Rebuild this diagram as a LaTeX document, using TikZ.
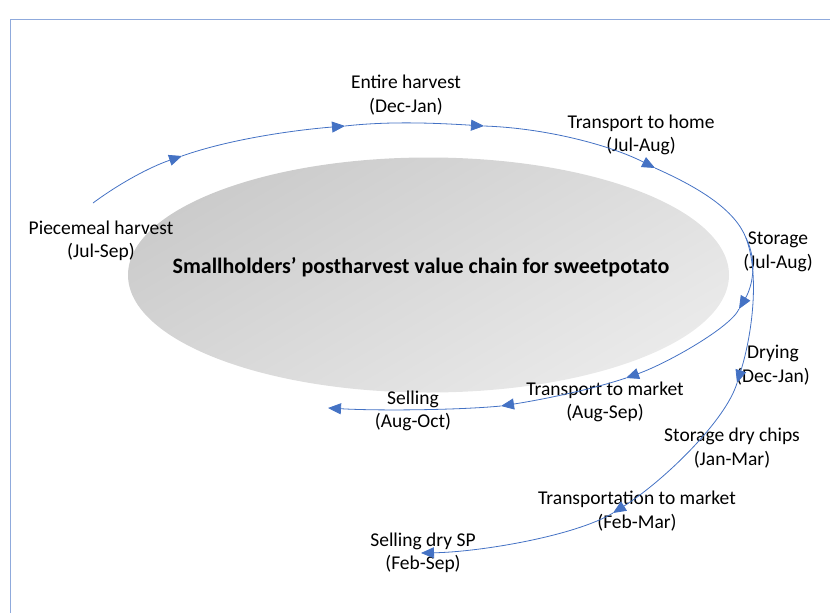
\documentclass[tikz,border=0pt]{standalone}
\usepackage{fontspec}
\setmainfont{Carlito}
\usetikzlibrary{arrows.meta,shapes.geometric}
\definecolor{flowblue}{HTML}{4472C4}
\definecolor{frameblue}{HTML}{8FAADC}
\definecolor{chaindark}{HTML}{CBCBCB}
\definecolor{chainlight}{HTML}{EAEAEA}
\tikzset{
  stage/.style={align=center, font=\fontsize{19.5}{23.5}\selectfont},
  flow/.style={draw=flowblue, line width=0.8pt, -{Triangle[length=13pt,width=11pt]}},
}
\begin{document}
\begin{tikzpicture}[x=1pt, y=-1pt]
        \useasboundingbox (0,0) rectangle (830,613);
        \draw[frameblue, line width=1.5pt] (10.5,640) -- (10.5,19.5) -- (850,19.5);

        % Nodes
        \node (chain) [ellipse, minimum width=601pt, minimum height=235pt,
          top color=chaindark, bottom color=chainlight, shading angle=30] at (428.5,275) {};
        \node (title) [font=\fontsize{22}{26}\selectfont\bfseries] at (421,267)
          {Smallholders’ postharvest value chain for sweetpotato};

        \node (piecemeal) [stage] at (101,241) {Piecemeal harvest\\(Jul-Sep)};
        \node (entire) [stage] at (406,95) {Entire harvest\\(Dec-Jan)};
        \node (home) [stage] at (641,135) {Transport to home\\(Jul-Aug)};
        \node (storage) [stage] at (778,252) {Storage\\(Jul-Aug)};
        \node (drying) [stage] at (773,365) {Drying\\(Dec-Jan)};
        \node (tmarket) [stage] at (605,402) {Transport to market\\(Aug-Sep)};
        \node (selling) [stage] at (413,411) {Selling\\(Aug-Oct)};
        \node (drychips) [stage] at (732,448) {Storage dry chips\\(Jan-Mar)};
        \node (ttmarket) [stage] at (637,511) {Transportation to market\\(Feb-Mar)};
        \node (sellingdry) [stage] at (423,553) {Selling dry SP\\(Feb-Sep)};

        % Points on the chain
        \coordinate (p0) at (93,203);
        \coordinate (a1) at (182,156);
        \coordinate (a2) at (345,126);
        \coordinate (a3) at (484,126);
        \coordinate (a4) at (655,168);
        \coordinate (j) at (746,238);
        \coordinate (a5) at (739,309);
        \coordinate (a6) at (626,378);
        \coordinate (a7) at (501,406);
        \coordinate (a8) at (328,408);
        \coordinate (d1) at (737,383);
        \coordinate (d2) at (613,513);
        \coordinate (d3) at (421,553);

        % Edges
        \draw[flow] (p0) .. controls (120,183) and (150,167) .. (a1);
        \draw[flow] (a1) .. controls (230,139) and (295,130) .. (a2);
        \draw[flow] (a2) .. controls (390,121) and (435,123) .. (a3);
        \draw[flow] (a3) .. controls (545,128) and (610,145) .. (a4);
        \draw[flowblue, line width=0.8pt] (a4) .. controls (700,188) and (735,210) .. (j);
        \draw[flow] (j) .. controls (758,262) and (752,287) .. (a5);
        \draw[flow] (a5) .. controls (731,327) and (668,363) .. (a6);
        \draw[flow] (a6) .. controls (590,390) and (540,400) .. (a7);
        \draw[flow] (a7) .. controls (460,410) and (380,411) .. (a8);
        \draw[flow] (j) .. controls (760,275) and (752,335) .. (d1);
        \draw[flow] (d1) .. controls (726,420) and (665,480) .. (d2);
        \draw[flow] (d2) .. controls (575,536) and (480,552) .. (d3);
\end{tikzpicture}
\end{document}
